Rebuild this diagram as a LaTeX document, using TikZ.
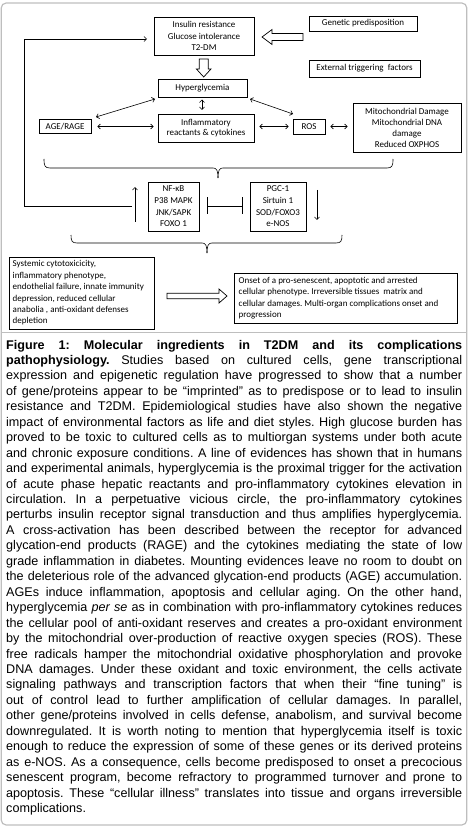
\documentclass[tikz,border=0pt]{standalone}
\usepackage{fontspec}
\setmainfont{Liberation Sans}
\newfontfamily\dfont{Carlito}
\usetikzlibrary{arrows.meta}
\frenchspacing
\newcommand\capfont{\fontsize{12.6}{15.45}\selectfont\frenchspacing\spaceskip=0.278em plus 0.8em minus 0.12em\relax}
\newcommand\cl[2]{\node[capline] (c#1) at (6,{349+(#1-1)*15.45}) {\makebox[456pt][s]{#2}};}
\begin{document}
\begin{tikzpicture}[x=1pt,y=-1pt,
  box/.style={draw, line width=0.7pt, inner sep=0pt, align=center, font=\dfont\fontsize{9}{11.5}\selectfont},
  dtext/.style={inner sep=0pt, font=\dfont\fontsize{9}{11.4}\selectfont},
  arr/.style={line width=0.6pt, -{Straight Barb[length=2.6pt,width=5pt]}},
  darr/.style={line width=0.6pt, {Straight Barb[length=2.6pt,width=5pt]}-{Straight Barb[length=2.6pt,width=5pt]}},
  hollow/.style={draw, line width=0.7pt, fill=white},
  capline/.style={anchor=base west, inner sep=0pt, font=\capfont}]
\useasboundingbox (0,0) rectangle (469,826);
\definecolor{framegrey}{RGB}{190,190,190}
\draw[framegrey, line width=1.2pt, rounded corners=5pt] (1.2,3) rectangle (466.8,825);
\draw[framegrey, line width=1pt] (1.2,332) -- (466.8,332);

% boxes
\node[box, minimum width=100, minimum height=38] (ins) at (204,36) {Insulin resistance\\Glucose intolerance\\T2-DM};
\node[box, minimum width=108, minimum height=15] (gen) at (363,23.5) {Genetic predisposition};
\node[box, minimum width=111, minimum height=17] (ext) at (364.5,68.5) {External triggering\ \ factors};
\node[box, minimum width=89, minimum height=18] (hyp) at (202.5,88) {Hyperglycemia};
\node[box, minimum width=52, minimum height=14] (age) at (65,126.5) {AGE/RAGE};
\node[box, minimum width=96, minimum height=28, font=\dfont\fontsize{9}{10.5}\selectfont] (inf) at (206,128) {Inflammatory\\reactants \& cytokines};
\node[box, minimum width=32, minimum height=15] (ros) at (309,126.5) {ROS};
\node[box, minimum width=108, minimum height=49, font=\dfont\fontsize{9}{11}\selectfont] (mito) at (407,127.5) {Mitochondrial Damage\\Mitochondrial DNA\\damage\\Reduced OXPHOS};
\node[box, minimum width=51, minimum height=49, font=\dfont\fontsize{9}{11.7}\selectfont] (nfkb) at (173.5,206.5) {NF-κB\\P38 MAPK\\JNK/SAPK\\FOXO 1};
\node[box, minimum width=56, minimum height=49, font=\dfont\fontsize{9}{11.7}\selectfont] (pgc) at (278,206.5) {PGC-1\\Sirtuin 1\\SOD/FOXO3\\e-NOS};
\node[box, minimum width=145, minimum height=72, anchor=north west] (sys) at (9,257) {};
\node[dtext, anchor=north west, align=left] (systxt) at (12.5,260.5) {Systemic cytotoxicicity,\\inflammatory phenotype,\\endothelial failure, innate immunity\\depression, reduced cellular\\anabolia , anti-oxidant defenses\\depletion};
\node[box, minimum width=223, minimum height=50, anchor=north west] (ons) at (234,273) {};
\node[dtext, anchor=north west, align=left] (onstxt) at (238.5,277) {Onset of a pro-senescent, apoptotic and arrested\\cellular phenotype. Irreversible tissues\ \ matrix and\\cellular damages. Multi-organ complications onset and\\progression};

% hollow block arrows
\draw[hollow] (262,37) -- (272,29.5) -- (272,33.5) -- (303,33.5) -- (303,40.5) -- (272,40.5) -- (272,44.5) -- cycle;
\draw[hollow] (199.2,59) -- (208.2,59) -- (208.2,69) -- (211,69) -- (203.7,77) -- (196.4,69) -- (199.2,69) -- cycle;
\draw[hollow] (167,293.3) -- (219,293.3) -- (219,289) -- (227,296) -- (219,303) -- (219,298.7) -- (167,298.7) -- cycle;

% double arrows
\draw[darr] (155,99) -- (96,117);
\draw[darr] (202,99.5) -- (202,110);
\draw[darr] (250,99) -- (293,114);
\draw[darr] ([xshift=6pt]age.east) -- ([xshift=-4pt]age.east -| inf.west);
\draw[darr] ([xshift=5pt]inf.east |- age.east) -- ([xshift=-4pt]ros.west |- age.east);
\draw[darr] ([xshift=5pt]ros.east |- age.east) -- ([xshift=-5pt]mito.west |- age.east);

% feedback loop
\coordinate (fb0) at (132,206);
\draw[arr] (fb0) -- (24,206) -- (24,39) -- (147,39);
\draw[arr] (135,222) -- (135,187);
\draw[arr] (317,190) -- (317,220);

% inhibition between nfkb and pgc
\draw[line width=0.6pt] (207,206) -- (242,206);
\draw[line width=0.6pt] (207,197.5) -- (207,214);
\draw[line width=0.6pt] (242,197.5) -- (242,214);

% braces
\draw[line width=0.6pt] (44,159) .. controls (44,166) and (45,168) .. (50,168) -- (213,168) .. controls (216.5,168) and (218,170) .. (218,178);
\draw[line width=0.6pt] (218,178) .. controls (218,170) and (219.5,168) .. (223,168) -- (387,168) .. controls (392,168) and (393,166) .. (393,159);
\draw[line width=0.6pt] (71,235) .. controls (71,241) and (72,243) .. (77,243) -- (202,243) .. controls (205.5,243) and (207,245) .. (207,253);
\draw[line width=0.6pt] (207,253) .. controls (207,245) and (208.5,243) .. (212,243) -- (336,243) .. controls (341,243) and (342,241) .. (342,235);

% caption
\cl{1}{\bfseries Figure 1: Molecular ingredients in T2DM and its complications}
\cl{2}{{\bfseries pathophysiology.} Studies based on cultured cells, gene transcriptional}
\cl{3}{expression and epigenetic regulation have progressed to show that a number}
\cl{4}{of gene/proteins appear to be “imprinted” as to predispose or to lead to insulin}
\cl{5}{resistance and T2DM. Epidemiological studies have also shown the negative}
\cl{6}{impact of environmental factors as life and diet styles. High glucose burden has}
\cl{7}{proved to be toxic to cultured cells as to multiorgan systems under both acute}
\cl{8}{and chronic exposure conditions. A line of evidences has shown that in humans}
\cl{9}{and experimental animals, hyperglycemia is the proximal trigger for the activation}
\cl{10}{of acute phase hepatic reactants and pro-inflammatory cytokines elevation in}
\cl{11}{circulation. In a perpetuative vicious circle, the pro-inflammatory cytokines}
\cl{12}{perturbs insulin receptor signal transduction and thus amplifies hyperglycemia.}
\cl{13}{A cross-activation has been described between the receptor for advanced}
\cl{14}{glycation-end products (RAGE) and the cytokines mediating the state of low}
\cl{15}{grade inflammation in diabetes. Mounting evidences leave no room to doubt on}
\cl{16}{the deleterious role of the advanced glycation-end products (AGE) accumulation.}
\cl{17}{AGEs induce inflammation, apoptosis and cellular aging. On the other hand,}
\cl{18}{hyperglycemia \emph{per se} as in combination with pro-inflammatory cytokines reduces}
\cl{19}{the cellular pool of anti-oxidant reserves and creates a pro-oxidant environment}
\cl{20}{by the mitochondrial over-production of reactive oxygen species (ROS). These}
\cl{21}{free radicals hamper the mitochondrial oxidative phosphorylation and provoke}
\cl{22}{DNA damages. Under these oxidant and toxic environment, the cells activate}
\cl{23}{signaling pathways and transcription factors that when their “fine tuning” is}
\cl{24}{out of control lead to further amplification of cellular damages. In parallel,}
\cl{25}{other gene/proteins involved in cells defense, anabolism, and survival become}
\cl{26}{downregulated. It is worth noting to mention that hyperglycemia itself is toxic}
\cl{27}{enough to reduce the expression of some of these genes or its derived proteins}
\cl{28}{as e-NOS. As a consequence, cells become predisposed to onset a precocious}
\cl{29}{senescent program, become refractory to programmed turnover and prone to}
\cl{30}{apoptosis. These “cellular illness” translates into tissue and organs irreversible}
\node[capline] (c31) at (6,{349+30*15.45}) {complications.};
\end{tikzpicture}
\end{document}
